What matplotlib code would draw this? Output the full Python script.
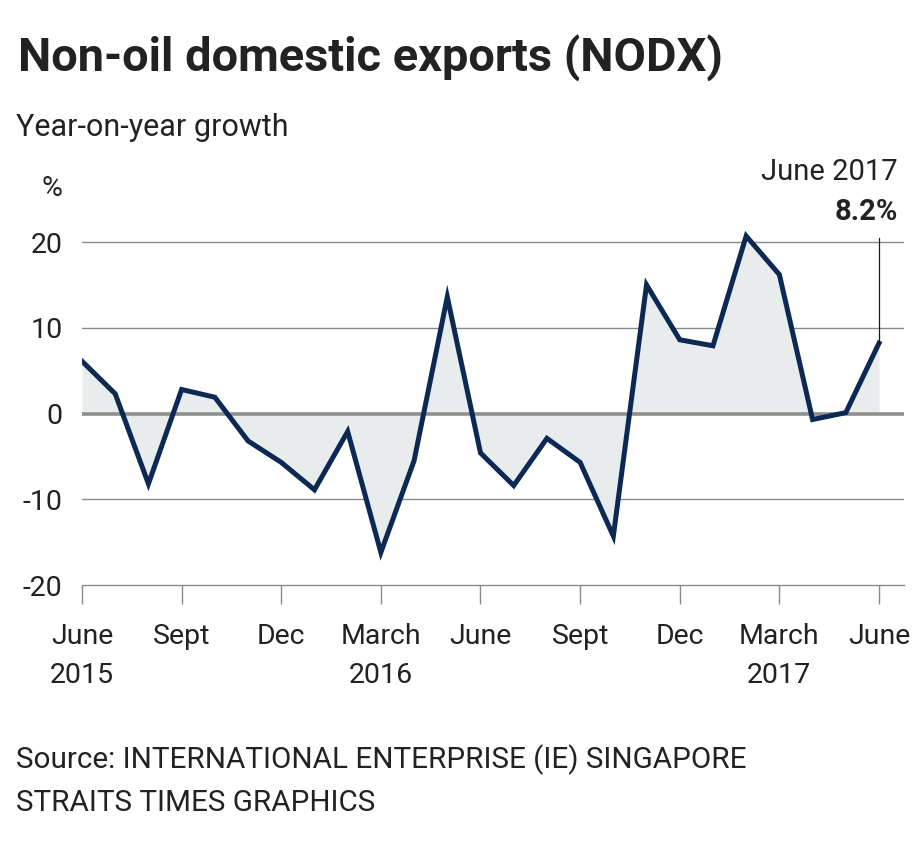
import matplotlib
matplotlib.use("Agg")
import matplotlib.pyplot as plt
import numpy as np

months = list(range(25))  # June 2015 .. June 2017
growth = [6.1, 2.3, -8.2, 2.8, 1.9, -3.2, -5.7, -8.9, -2.1, -16.2, -5.5, 13.6,
          -4.6, -8.4, -2.9, -5.7, -14.3, 15.0, 8.6, 7.9, 20.7, 16.2, -0.7, 0.1, 8.2]
tick_pos = [0, 3, 6, 9, 12, 15, 18, 21, 24]
tick_labels = ["June\n2015", "Sept", "Dec", "March\n2016", "June", "Sept", "Dec", "March\n2017", "June"]
yticks = [-20, -10, 0, 10, 20]
ytick_labels = ["-20", "-10", "0", "10", "20"]

plt.rcParams['font.family'] = ['Roboto', 'DejaVu Sans']
W, H = 920, 852
fig = plt.figure(figsize=(W/100, H/100), dpi=100)

x_left, x_right = 82, 904
y_bot, y_top = 585, 229
ax = fig.add_axes([x_left/W, 1 - y_bot/H, (x_right-x_left)/W, (y_bot-y_top)/H])
ax.set_xlim(0, 24 * (x_right - x_left) / (879 - 82))
ax.set_ylim(-20, 20 + (242 - 229) / 8.56)

txt = "#222222"
line_col = "#0c2954"
ax.fill_between(months, growth, 0, color="#e9eced", linewidth=0, zorder=1)
for y in [10, 20, -10]:
    ax.axhline(y, color="#8a8a8a", linewidth=1.0, zorder=0)
ax.axhline(0, color="#8f8f8f", linewidth=2.6, zorder=2)
ax.plot(months, growth, color=line_col, linewidth=3.6, solid_joinstyle="miter", zorder=3)

for s in ["top", "right", "left"]:
    ax.spines[s].set_visible(False)
ax.spines["bottom"].set_color("#8a8a8a")
ax.spines["bottom"].set_linewidth(1.0)

ax.set_xticks(tick_pos)
ax.set_xticklabels(tick_labels, fontsize=20.5, color=txt, linespacing=1.6)
ax.tick_params(axis="x", length=14, width=1.0, color="#8a8a8a", pad=13)
ax.set_yticks(yticks)
ax.set_yticklabels(ytick_labels, fontsize=20.5, color=txt)
ax.tick_params(axis="y", length=0, pad=14)

# annotation for June 2017
ax.plot([24, 24], [growth[-1], 20.5], color="#1a1a1a", linewidth=0.9, zorder=4, clip_on=False)
fig.text(898/W, 1 - 172/H, "June 2017", fontsize=21, ha="right", va="center", color=txt)
fig.text(898/W, 1 - 212/H, "8.2%", fontsize=21, ha="right", va="center", color=txt, fontweight="bold")
fig.text(62/W, 1 - 188/H, "%", fontsize=20.5, ha="right", va="center", color=txt)

fig.text(18/W, 1 - 58/H, "Non-oil domestic exports (NODX)", fontsize=33.8, fontweight="bold",
         ha="left", va="center", color="#222222")
fig.text(16/W, 1 - 128/H, "Year-on-year growth", fontsize=22, ha="left", va="center", color=txt)
fig.text(16/W, 1 - 760/H, "Source: INTERNATIONAL ENTERPRISE (IE) SINGAPORE", fontsize=21.3,
         ha="left", va="center", color=txt)
fig.text(16/W, 1 - 803/H, "STRAITS TIMES GRAPHICS", fontsize=21.3, ha="left", va="center", color=txt)

fig.savefig("out.png", dpi=100)
